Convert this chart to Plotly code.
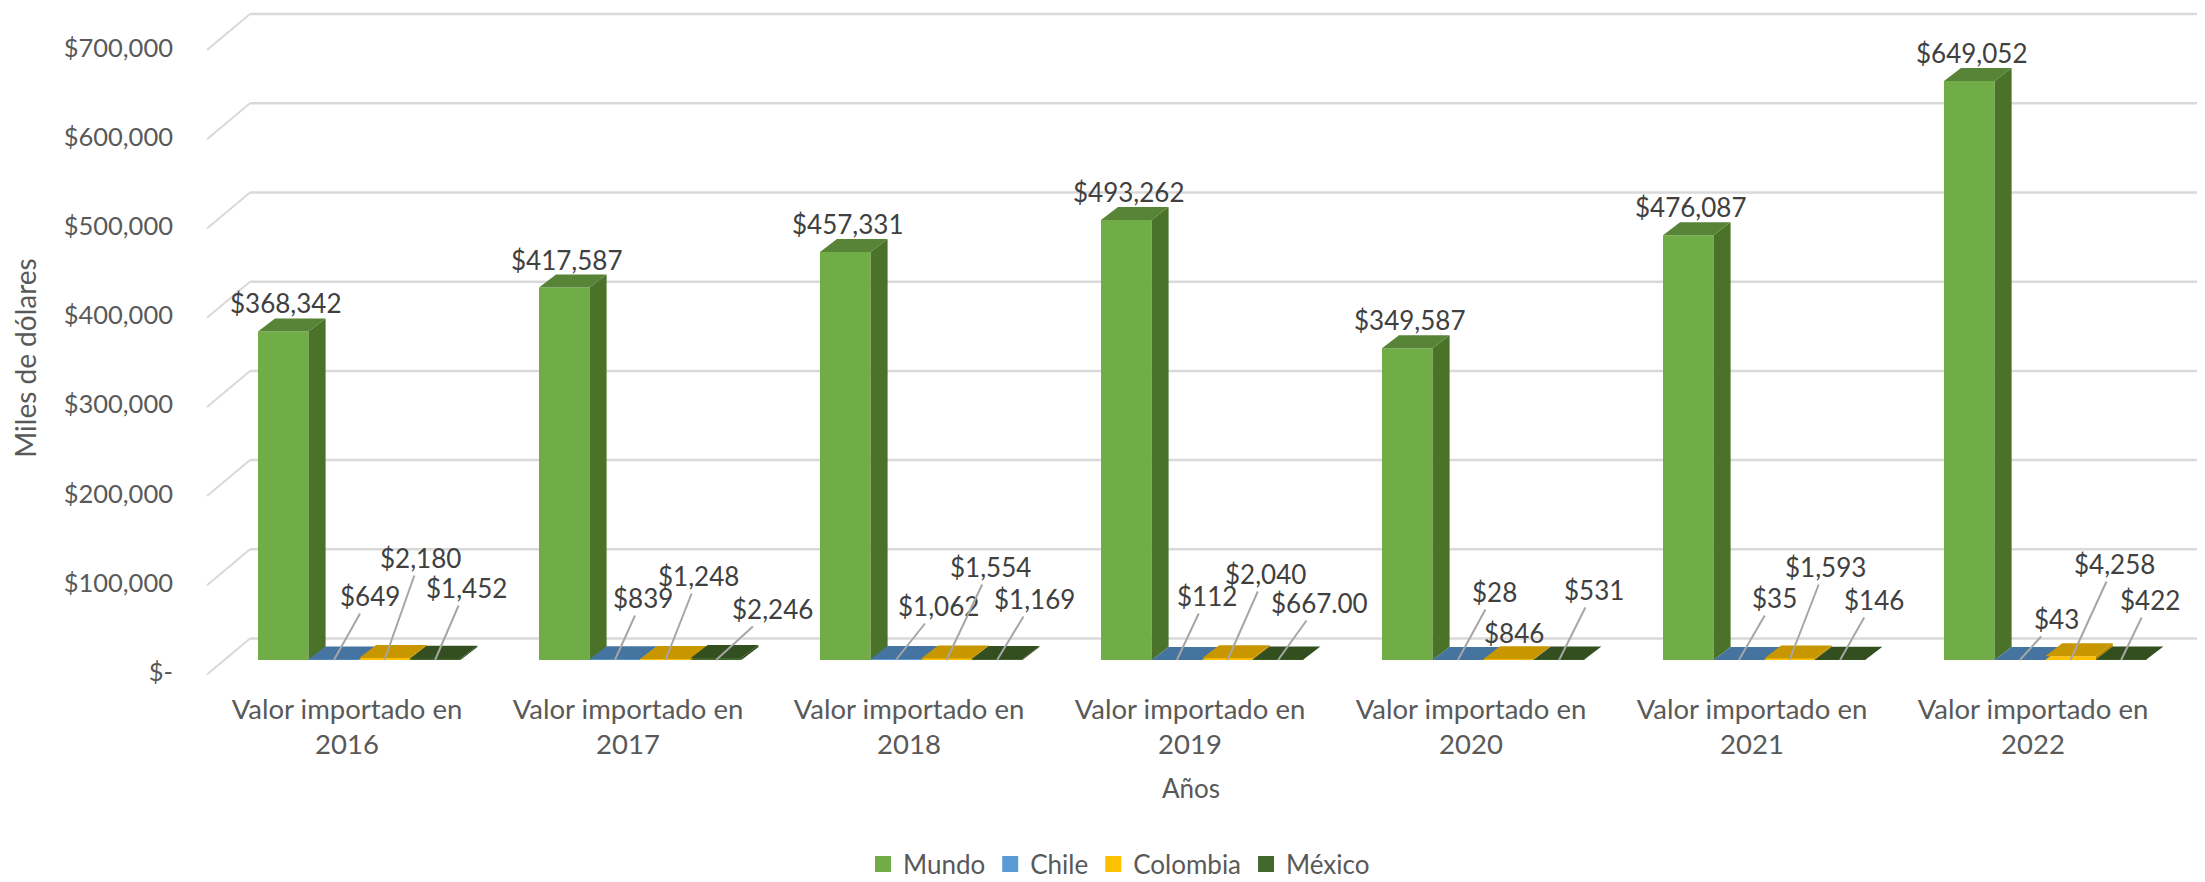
import plotly.graph_objects as go

# ---------- data ----------
years = ["2016", "2017", "2018", "2019", "2020", "2021", "2022"]
category_labels = [f"Valor importado en<br>{y}" for y in years]
series_names = ["Mundo", "Chile", "Colombia", "México"]
mundo = [368342, 417587, 457331, 493262, 349587, 476087, 649052]
chile = [649, 839, 1062, 112, 28, 35, 43]
colombia = [2180, 1248, 1554, 2040, 846, 1593, 4258]
mexico = [1452, 2246, 1169, 667, 531, 146, 422]
mexico_text = ["$1,452", "$2,246", "$1,169", "$667.00", "$531", "$146", "$422"]
y_ticks = [0, 100000, 200000, 300000, 400000, 500000, 600000, 700000]
y_tick_text = ["$-", "$100,000", "$200,000", "$300,000", "$400,000", "$500,000", "$600,000", "$700,000"]

# ---------- style / layout ----------
W, H = 2205, 882
PAGE = 8                                # the page's own margin round the figure
PL, PR, PT, PB = 180, 2202, PAGE, 708   # plot rectangle in page px
PITCH = 281.0                           # px per category
CENTER0 = 347.0                         # px of first category centre
BASE_PX = 660.0                         # px of value zero at the bars' front
PX_PER_USD = 0.000892
BAR_W = 50.6 / PITCH
BAR_OFF = [(258 + 25.3 + 50.6 * j - CENTER0) / PITCH for j in range(4)]
BAR_DX, BAR_DY = 17 / PITCH, 13 / PX_PER_USD      # depth of a bar
WALL_DY = 21.5 / PX_PER_USD                       # back wall above the bars' base
WALL_DX = (250 - CENTER0) / PITCH                 # wall start
FRONT_DX = (207 - CENTER0) / PITCH                # slanted line start
FRONT_DY = 36 / PX_PER_USD
LABEL_SHIFT = 12 / PX_PER_USD                     # y tick labels sit under the base
FONT = "Lato"
GREY = "#595959"
DARK = "#404040"
FS_LABEL = 26
FS_YTICK = 25.5
FS_XTICK = 27.5
FS_YTITLE = 28
FS_XTITLE = 26
FS_LEGEND = 26
LEGEND_CX, LEGEND_CY = 1119, 864

front = ["#70ad47", "#5b9bd5", "#ffc000", "#43682b"]
side = ["#4a7229", "#3d6f9c", "#b88a00", "#2c451c"]
top = ["#588437", "#44749f", "#c89700", "#334f20"]

# label offsets in px (from the foot of each small bar to the centre of its label)
off_chile = [(36, -64), (28, -62), (43, -54), (30, -64), (37, -68), (36, -62), (37, -41)]
off_colombia = [(36, -102), (33, -84), (44, -93), (38, -86), (5, -27), (36, -93), (44, -96)]
off_mexico = [(31, -72), (56, -51), (37, -61), (41, -57), (35, -70), (34, -60), (29, -60)]

x_min = (PL - CENTER0) / PITCH
x_max = (PR - CENTER0) / PITCH
y_min = (BASE_PX - PB) / PX_PER_USD
y_max = (BASE_PX - PT) / PX_PER_USD

fig = go.Figure()
values = [mundo, chile, colombia, mexico]

for j, name in enumerate(series_names):
    vals = values[j]
    xs = [i + BAR_OFF[j] for i in range(len(vals))]
    # front faces
    fig.add_trace(go.Bar(x=xs, y=vals, width=BAR_W, marker=dict(color=front[j], line=dict(width=0)),
                         name=name, showlegend=False, hoverinfo="skip"))

for j, name in enumerate(series_names):
    vals = values[j]
    sx, sy, tx, ty = [], [], [], []
    for i, v in enumerate(vals):
        x0 = i + BAR_OFF[j] - BAR_W / 2
        x1 = x0 + BAR_W
        sx += [x1, x1 + BAR_DX, x1 + BAR_DX, x1, x1, None]
        sy += [0, BAR_DY, v + BAR_DY, v, 0, None]
        tx += [x0, x0 + BAR_DX, x1 + BAR_DX, x1, x0, None]
        ty += [v, v + BAR_DY, v + BAR_DY, v, v, None]
    fig.add_trace(go.Scatter(x=sx, y=sy, mode="lines", fill="toself", fillcolor=side[j],
                             line=dict(width=0), showlegend=False, hoverinfo="skip"))
    fig.add_trace(go.Scatter(x=tx, y=ty, mode="lines", fill="toself", fillcolor=top[j],
                             line=dict(width=0), showlegend=False, hoverinfo="skip"))

# legend entries
for j, name in enumerate(series_names):
    fig.add_trace(go.Scatter(x=[None], y=[None], mode="markers", name=name,
                             marker=dict(symbol="square", size=16, color=front[j])))

# wall gridlines and slanted lines
shapes = []
for v in y_ticks:
    shapes.append(dict(type="line", xref="x", yref="y", layer="below",
                       x0=WALL_DX, x1=x_max, y0=v + WALL_DY, y1=v + WALL_DY,
                       line=dict(color="#d9d9d9", width=2.5)))
    shapes.append(dict(type="line", xref="x", yref="y", layer="below",
                       x0=FRONT_DX, x1=WALL_DX, y0=v + WALL_DY - FRONT_DY, y1=v + WALL_DY,
                       line=dict(color="#d9d9d9", width=2)))

# data labels
annotations = []
for i, v in enumerate(mundo):
    annotations.append(dict(x=i + BAR_OFF[0], y=v, xref="x", yref="y", text=f"${v:,.0f}", showarrow=False,
                            xshift=2, yshift=28, font=dict(family=FONT, size=FS_LABEL, color=DARK)))
small = [(chile, [f"${v:,.0f}" for v in chile], off_chile, 1),
         (colombia, [f"${v:,.0f}" for v in colombia], off_colombia, 2),
         (mexico, mexico_text, off_mexico, 3)]
for vals, texts, offs, j in small:
    for i, v in enumerate(vals):
        dx, dy = offs[i]
        no_line = j == 2 and i == 4
        annotations.append(dict(x=i + BAR_OFF[j], y=0, xref="x", yref="y", text=texts[i],
                                showarrow=not no_line, arrowhead=0, arrowwidth=2,
                                arrowcolor="#a6a6a6", ax=dx, ay=dy, axref="pixel", ayref="pixel", standoff=0,
                                xshift=dx if no_line else 0,
                                yshift=-dy if no_line else 0,
                                font=dict(family=FONT, size=FS_LABEL, color=DARK)))

fig.update_layout(
    width=W - PAGE, height=H - PAGE,
    autosize=False,
    paper_bgcolor="white", plot_bgcolor="white",
    margin=dict(l=PL - PAGE, r=W - PR, t=PT - PAGE, b=H - PB, pad=0),
    barmode="overlay",
    shapes=shapes,
    annotations=annotations,
    font=dict(family=FONT, size=FS_LABEL, color=GREY),
    showlegend=True,
    legend=dict(orientation="h", xref="container", x=(LEGEND_CX - PAGE) / (W - PAGE), xanchor="center",
                yref="container", y=1 - (LEGEND_CY - PAGE) / (H - PAGE), yanchor="middle",
                font=dict(family=FONT, size=FS_LEGEND, color=GREY)),
    xaxis=dict(range=[x_min, x_max], tickmode="array", tickvals=list(range(7)), ticktext=category_labels,
               showgrid=False, zeroline=False, showline=False, ticks="", ticklabelstandoff=-18,
               tickfont=dict(family=FONT, size=FS_XTICK, color=GREY), automargin=False,
               title=dict(text="Años", standoff=20, font=dict(family=FONT, size=FS_XTITLE, color=GREY))),
    yaxis=dict(range=[y_min, y_max], tickmode="array", tickvals=[v - LABEL_SHIFT for v in y_ticks], ticktext=y_tick_text,
               showgrid=False, zeroline=False, showline=False, ticks="", ticklabelstandoff=6,
               tickfont=dict(family=FONT, size=FS_YTICK, color=GREY), automargin=False,
               title=dict(text="Miles de dólares", standoff=23, font=dict(family=FONT, size=FS_YTITLE, color=GREY))),
)
fig.write_html("out.html")
